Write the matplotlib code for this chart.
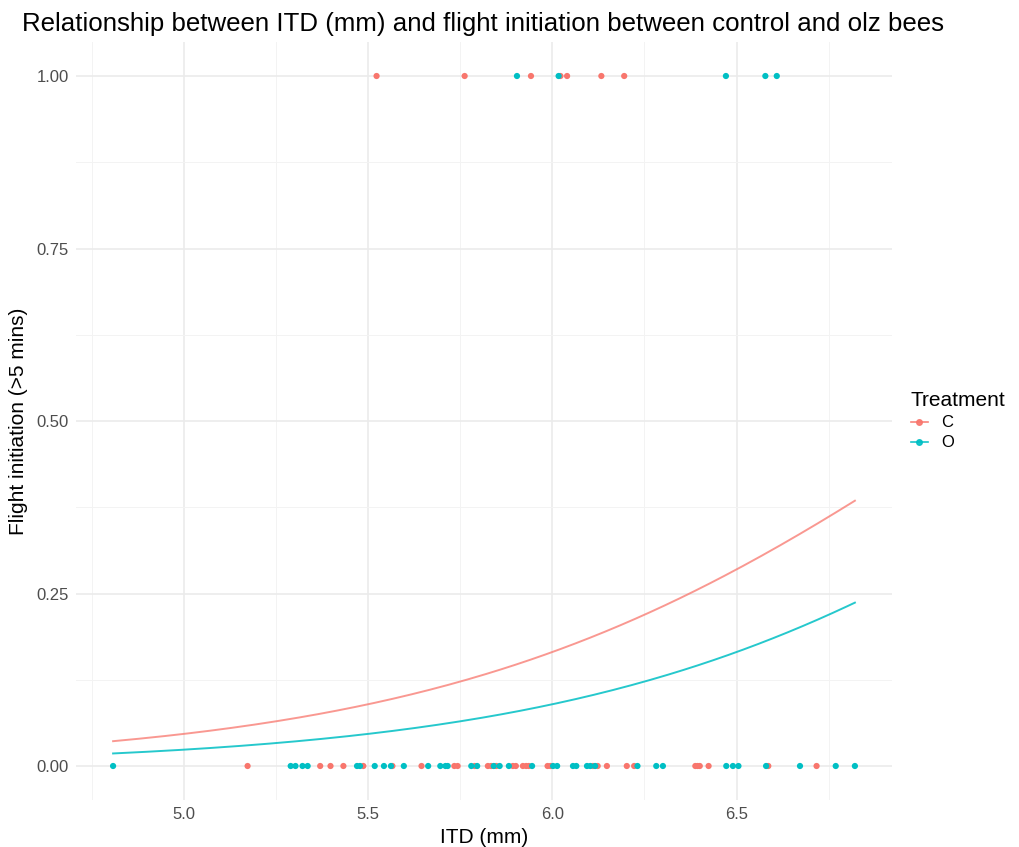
import numpy as np
import matplotlib.pyplot as plt
from matplotlib.lines import Line2D

plt.rcParams['font.family'] = ['Liberation Sans', 'DejaVu Sans']

# ITD (mm) of bees by treatment and whether they initiated flight
ctrl_fly = [5.523, 5.762, 5.942, 6.022, 6.040, 6.133, 6.195]
ctrl_no = [5.173, 5.370, 5.398, 5.433, 5.487, 5.566, 5.645, 5.734, 5.743,
           5.789, 5.825, 5.834, 5.848, 5.893, 5.901, 5.920, 5.929, 5.936,
           5.987, 5.995, 6.110, 6.123, 6.148, 6.202, 6.222, 6.388, 6.394,
           6.400, 6.424, 6.586, 6.717]
olz_fly = [5.904, 6.017, 6.471, 6.578, 6.609]
olz_no = [4.808, 5.290, 5.303, 5.322, 5.336, 5.470, 5.478, 5.518, 5.543,
          5.562, 5.597, 5.663, 5.696, 5.710, 5.716, 5.780, 5.796, 5.841,
          5.857, 5.882, 5.945, 6.002, 6.013, 6.056, 6.065, 6.094, 6.103,
          6.116, 6.231, 6.282, 6.300, 6.472, 6.490, 6.505, 6.580, 6.672,
          6.769, 6.821]

# logistic model: logit(p) = b0 + b1*ITD + b_olz*(treatment == O)
b0 = -10.02
b1 = 1.40
b_olz = -0.70

RED = '#F8766D'
CYAN = '#00BFC4'


def logistic(z):
    return 1.0 / (1.0 + np.exp(-z))


def main():
    fig = plt.figure(figsize=(10.2, 8.47), dpi=100)
    ax = fig.add_axes([0.0745, 0.0549, 0.800, 0.8961])

    # bees in file order: control then olz
    for xs, ys, col in [(ctrl_no, 0, RED), (olz_no, 0, CYAN),
                        (ctrl_fly, 1, RED), (olz_fly, 1, CYAN)]:
        ax.scatter(xs, np.full(len(xs), ys), s=20, color=col,
                   edgecolors='none', zorder=3)

    allx = ctrl_fly + ctrl_no + olz_fly + olz_no
    grid = np.linspace(min(allx), max(allx), 200)
    ax.plot(grid, logistic(b0 + b1 * grid), color=RED, lw=1.4,
            alpha=0.75, zorder=4)
    ax.plot(grid, logistic(b0 + b1 * grid + b_olz), color=CYAN, lw=1.4,
            alpha=0.85, zorder=4)

    lo, hi = min(allx), max(allx)
    pad = (hi - lo) * 0.05
    ax.set_xlim(lo - pad, hi + pad)
    ax.set_ylim(-0.05, 1.05)

    ax.set_xticks([5.0, 5.5, 6.0, 6.5])
    ax.set_xticklabels(['5.0', '5.5', '6.0', '6.5'])
    ax.set_xticks([4.75, 5.25, 5.75, 6.25, 6.75], minor=True)
    ax.set_yticks([0, 0.25, 0.5, 0.75, 1.0])
    ax.set_yticklabels(['0.00', '0.25', '0.50', '0.75', '1.00'])
    ax.set_yticks([0.125, 0.375, 0.625, 0.875], minor=True)

    ax.grid(which='major', color='#EBEBEB', lw=1.2, zorder=0)
    ax.grid(which='minor', color='#F3F3F3', lw=0.7, zorder=0)
    ax.set_axisbelow(True)
    for s in ax.spines.values():
        s.set_visible(False)
    ax.tick_params(which='both', length=0, labelsize=12, colors='#4D4D4D',
                   pad=5)

    ax.set_xlabel('ITD (mm)', fontsize=15, color='black', labelpad=4)
    ax.set_ylabel('Flight initiation (>5 mins)', fontsize=15, color='black',
                  labelpad=6)
    fig.text(0.022, 0.972, 'Relationship between ITD (mm) and flight '
             'initiation between control and olz bees',
             fontsize=18.6, ha='left', va='center')

    handles = [Line2D([], [], color=RED, marker='o', ms=4, lw=1.2, alpha=0.9),
               Line2D([], [], color=CYAN, marker='o', ms=4, lw=1.2, alpha=0.9)]
    leg = fig.legend(handles, ['C', 'O'], title='Treatment',
                     loc='center left', bbox_to_anchor=(0.893, 0.503),
                     frameon=False, fontsize=12, title_fontsize=15,
                     handlelength=1.0, handletextpad=0.8, labelspacing=0.3,
                     borderpad=0, borderaxespad=0)
    leg._legend_box.align = 'left'

    plt.savefig('out.png', dpi=100)


if __name__ == '__main__':
    main()
